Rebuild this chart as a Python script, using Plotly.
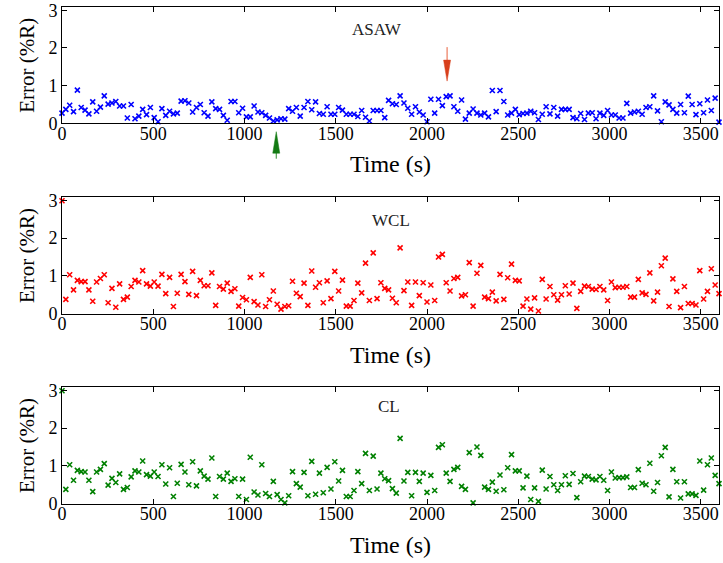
import numpy as np
import plotly.graph_objects as go

N = 172
TIME = np.linspace(0, 3600, N)

ASAW = [0.27,0.37,0.48,0.31,0.88,0.42,0.35,0.25,0.57,0.32,
        0.43,0.73,0.51,0.54,0.58,0.46,0.46,0.14,0.50,0.12,
        0.19,0.37,0.23,0.42,0.15,0.04,0.39,0.21,0.32,0.25,
        0.27,0.59,0.60,0.54,0.30,0.42,0.50,0.28,0.19,0.57,
        0.39,0.37,0.21,0.08,0.58,0.58,0.28,0.40,0.17,0.17,
        0.46,0.30,0.28,0.21,0.14,0.06,0.09,0.12,0.11,0.39,
        0.32,0.42,0.19,
        0.42,0.58,0.36,0.57,0.26,0.24,0.44,0.24,0.24,0.42,
        0.35,0.24,0.24,0.24,0.18,0.34,0.16,0.06,0.34,0.34,
        0.34,0.15,0.61,0.52,0.50,0.73,0.54,0.40,0.24,0.44,
        0.30,0.22,0.04,0.64,0.27,0.64,0.47,0.71,0.73,0.44,
        0.32,0.62,0.11,0.27,0.38,0.27,0.22,0.27,0.17,0.87,
        0.31,0.87,0.58,0.22,0.27,
        0.37,0.23,0.26,0.27,0.32,0.28,0.10,0.24,0.44,0.25,
        0.42,0.19,0.37,0.37,0.37,0.15,0.12,0.26,0.10,0.27,
        0.28,0.12,0.27,0.21,0.34,0.22,0.22,0.14,0.14,0.53,
        0.27,0.30,0.32,0.24,0.42,0.44,0.73,0.33,0.04,0.57,
        0.49,0.37,0.27,0.50,0.28,0.72,0.50,0.23,0.52,0.28,
        0.62,0.34,0.67,0.03]

WCL = [2.99,0.38,1.03,0.63,0.88,0.85,0.85,0.63,0.33,0.84,
       0.93,1.03,0.29,0.67,0.17,0.79,0.38,0.44,0.72,0.88,
       0.84,1.14,0.79,0.73,0.84,0.73,1.04,0.53,0.96,0.19,
       0.54,1.04,0.85,0.51,1.12,0.48,0.88,0.74,0.74,1.08,
       0.22,0.72,0.65,0.81,0.59,0.66,0.20,0.43,0.37,0.96,
       0.32,0.23,1.03,0.19,0.37,0.60,0.25,
       0.12,0.19,0.21,0.86,0.54,0.45,0.81,0.22,1.13,0.70,
       0.82,0.29,0.87,0.40,1.12,0.60,0.89,0.20,0.20,0.35,
       0.81,0.55,1.34,0.35,1.61,0.40,0.82,0.67,0.63,0.41,
       0.29,1.74,0.61,0.84,0.22,0.84,0.48,0.82,0.31,0.76,
       0.35,1.50,1.57,0.82,0.60,0.93,0.96,0.47,0.50,1.35,
       0.20,1.07,1.28,0.44,0.40,0.57,0.34,1.04,
       0.38,0.95,1.31,0.88,0.87,0.20,0.39,0.12,0.42,0.07,
       0.91,0.39,0.72,0.50,0.36,0.50,0.74,0.52,0.81,0.14,
       0.59,0.73,0.72,0.65,0.64,0.72,0.63,0.35,0.84,0.69,
       0.70,0.70,0.72,0.44,0.44,0.91,0.55,0.51,1.08,0.34,
       0.57,1.27,1.47,0.19,0.92,0.59,0.16,0.72,0.27,0.27,
       0.23,1.14,0.39,0.59,1.19,0.76,0.53]

CL = [2.99,0.38,1.03,0.62,0.88,0.85,0.84,0.62,0.32,0.84,
      0.91,1.06,0.49,0.67,0.56,0.79,0.38,0.43,0.71,0.87,
      0.84,1.13,0.77,0.73,0.84,0.72,1.03,0.52,0.95,0.19,
      0.54,1.04,0.84,0.50,1.11,0.47,0.87,0.73,0.65,1.21,
      0.19,0.72,0.65,0.81,0.59,0.66,0.19,0.65,0.11,1.23,
      0.31,0.23,1.03,0.27,0.19,0.59,0.24,
      0.11,0.02,0.21,0.85,0.53,0.44,0.83,0.21,1.12,0.25,
      0.81,0.29,0.96,0.39,1.11,0.60,0.88,0.19,0.19,0.35,
      0.85,0.53,1.33,0.35,1.26,0.39,0.81,0.66,0.61,0.40,
      0.28,1.73,0.60,0.83,0.21,0.83,0.59,0.81,0.30,0.75,
      0.35,1.49,1.56,0.81,0.59,0.91,0.96,0.46,0.38,1.35,
      0.02,1.50,1.28,0.44,0.38,0.57,0.33,0.76,
      0.37,0.95,1.30,0.87,0.87,0.42,0.73,0.11,0.42,0.06,
      0.89,0.39,0.72,0.50,0.35,0.50,0.74,0.51,0.80,0.16,
      0.58,0.73,0.72,0.65,0.63,0.72,0.62,0.35,0.84,0.68,
      0.69,0.69,0.71,0.43,0.43,0.90,0.54,0.50,1.07,0.33,
      0.56,1.27,1.49,0.18,0.91,0.58,0.15,0.58,0.26,0.26,
      0.22,1.13,0.36,1.03,1.21,0.75,0.53]

LABELS = ["ASAW", "WCL", "CL"]
COLORS = ["#0000ff", "#ff0000", "#008000"]
SERIES = [ASAW, WCL, CL]
XTICKS = [0, 500, 1000, 1500, 2000, 2500, 3000, 3500]
YTICKS = [0, 1, 2, 3]
LABEL_POS = [(1726, 2.5), (1800, 2.47), (1792, 2.58)]
RED_ARROW = (2110, 1.12)
GREEN_ARROW_T = 1174

W, H = 723, 563
ML, MR, MT, MB = 62, 4, 7, 59
PH = H - MT - MB
panels_px = [(7.3, 123.3), (197.3, 313.7), (387.3, 503.7)]
bottom_px = H - MB

def frac(py):
    return (bottom_px - py) / PH

FONT = "Liberation Serif"
fig = go.Figure()
for i, (name, col, vals) in enumerate(zip(LABELS, COLORS, SERIES)):
    sfx = "" if i == 0 else str(i + 1)
    fig.add_trace(go.Scatter(
        x=TIME, y=vals, mode="markers", name=name,
        xaxis="x" + sfx, yaxis="y" + sfx, cliponaxis=False,
        marker=dict(symbol="x-thin", size=5, line=dict(width=1.6, color=col), color=col),
        showlegend=False, hoverinfo="skip",
    ))
    top, bot = panels_px[i]
    axcommon = dict(showline=True, linecolor="black", linewidth=1, mirror="ticks",
                    ticks="inside", ticklen=5, tickcolor="black", showgrid=False,
                    zeroline=False, automargin=False,
                    tickfont=dict(family=FONT, size=18, color="black"))
    fig.update_layout(**{
        "xaxis" + sfx: dict(domain=[0, 1], range=[0, 3600], anchor="y" + sfx,
                            tickvals=XTICKS, ticklabelstandoff=-6,
                            title=dict(text="Time (s)", font=dict(family=FONT, size=24, color="black"), standoff=12),
                            **axcommon),
        "yaxis" + sfx: dict(domain=[frac(bot), frac(top)], range=[0, 3.08], anchor="x" + sfx,
                            tickvals=YTICKS,
                            title=dict(text="Error (%R)", font=dict(family=FONT, size=21, color="black"), standoff=8),
                            **axcommon),
    })
    lx, ly = LABEL_POS[i]
    fig.add_annotation(x=lx, y=ly, xref="x" + sfx, yref="y" + sfx, text=name, showarrow=False,
                       font=dict(family=FONT, size=17, color="#222222"))

# red arrow (pointing down into panel 1)
fig.add_shape(type="path", xref="x", yref="y", xsizemode="pixel", ysizemode="pixel",
              xanchor=RED_ARROW[0], yanchor=RED_ARROW[1],
              path="M 0 19 L 0 34", line=dict(color="#e8603c", width=1))
fig.add_shape(type="path", xref="x", yref="y", xsizemode="pixel", ysizemode="pixel",
              xanchor=RED_ARROW[0], yanchor=RED_ARROW[1],
              path="M 0 0 L -3.5 21 L 3.5 21 Z", fillcolor="#d8401c", line=dict(color="#d8401c", width=0.5))
# green arrow (pointing up below panel 1)
gy = frac(131.7)
fig.add_shape(type="path", xref="x", yref="paper", xsizemode="pixel", ysizemode="pixel",
              xanchor=GREEN_ARROW_T, yanchor=gy,
              path="M 0 -20 L 0 -27", line=dict(color="#2a8a2a", width=1))
fig.add_shape(type="path", xref="x", yref="paper", xsizemode="pixel", ysizemode="pixel",
              xanchor=GREEN_ARROW_T, yanchor=gy,
              path="M 0 0 L -3.5 -21.5 L 3.5 -21.5 Z", fillcolor="#137a13", line=dict(color="#137a13", width=0.5))

fig.update_layout(width=W, height=H, margin=dict(l=ML, r=MR, t=MT, b=MB, autoexpand=False),
                  plot_bgcolor="white", paper_bgcolor="white", hovermode=False,
                  font=dict(family=FONT, color="black"))
fig.write_html("out.html", config={"displayModeBar": False, "staticPlot": True},
               post_script="document.body.style.margin='0';document.body.style.overflow='hidden';")
